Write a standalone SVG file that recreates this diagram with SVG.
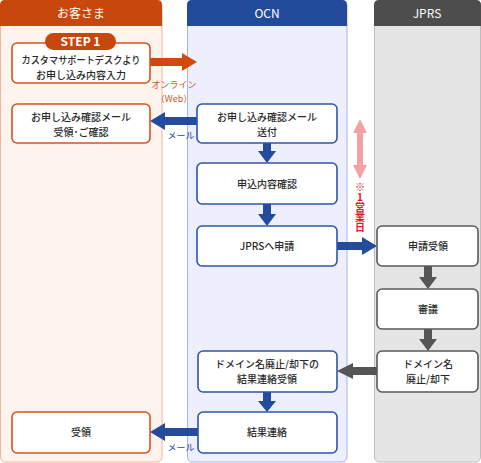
<svg xmlns="http://www.w3.org/2000/svg" width="481" height="463" viewBox="0 0 481 463">
<style>
text{font-family:"Noto Sans CJK JP","Liberation Sans",sans-serif;}
.hd{fill:#fff;font-size:12px;text-anchor:middle;}
.t{fill:#2a2a2a;font-size:10px;font-weight:500;text-anchor:middle;}
.nO{fill:#fff;stroke:#d4541a;stroke-width:1.6;}
.nB{fill:#fff;stroke:#2f56a8;stroke-width:1.6;}
.nG{fill:#fff;stroke:#5a5a5a;stroke-width:1.6;}
.lbl{font-size:9px;text-anchor:middle;}
</style>
<g id="col-customer">
<rect x="0.5" y="0.5" width="161.5" height="461.5" rx="5" fill="#fff3ee" stroke="#f2b49c"/>
<path d="M0,26V5Q0,0 5,0H157Q162,0 162,5V26Z" fill="#c8470c"/>
<text class="hd" x="81" y="18" font-size="11px">お客さま</text>
</g>
<g id="col-ocn">
<rect x="187.5" y="0.5" width="159.5" height="461.5" rx="5" fill="#eeeffc" stroke="#a9b2ea"/>
<path d="M187,26V5Q187,0 192,0H342Q347,0 347,5V26Z" fill="#224a9b"/>
<text class="hd" x="267" y="18" font-family="Liberation Sans">OCN</text>
</g>
<g id="col-jprs">
<rect x="374.5" y="0.5" width="106" height="461.5" rx="5" fill="#e5e5e5" stroke="#bdbdbd"/>
<path d="M374,26V5Q374,0 379,0H476Q481,0 481,5V26Z" fill="#4d4d4d"/>
<text class="hd" x="427" y="18" font-family="Liberation Sans">JPRS</text>
</g>
<g id="connectors">
<polygon points="150,58 182,58 182,53 197,62 182,71 182,66 150,66" fill="#cf4a0c"/>
<text class="lbl" x="174" y="88" fill="#d4541a">オンライン</text>
<text class="lbl" x="174" y="101.5" fill="#d4541a">（Web）</text>
<polygon points="197,117 165,117 165,112 150,121 165,130 165,125 197,125" fill="#234c9c"/>
<text class="lbl" x="181" y="139" fill="#234c9c">メール</text>
<polygon points="263,143 271,143 271,151 276,151 267,163 258,151 263,151" fill="#234c9c"/>
<polygon points="263,204 271,204 271,214 276,214 267,226 258,214 263,214" fill="#234c9c"/>
<polygon points="337,242 362,242 362,237 377,246 362,255 362,250 337,250" fill="#234c9c"/>
<polygon points="424,266 432,266 432,277 437,277 428,289 419,277 424,277" fill="#555"/>
<polygon points="424,329 432,329 432,339 437,339 428,351 419,339 424,339" fill="#555"/>
<polygon points="377,367 353,367 353,363 337,371 353,379 353,375 377,375" fill="#555"/>
<polygon points="263,392 271,392 271,401 276,401 267,412 258,401 263,401" fill="#234c9c"/>
<polygon points="198,428 165,428 165,423 150,432 165,441 165,436 198,436" fill="#234c9c"/>
<text class="lbl" x="181" y="451" fill="#234c9c">メール</text>
<polygon points="360,119 367,133 363,133 363,165 367,165 360,179 353,165 357,165 357,133 353,133" fill="#f4a0a4"/>
<text x="360" y="182" font-size="10px" font-weight="bold" fill="#e0182a" style="writing-mode:vertical-rl;text-orientation:upright">※1営業日</text>
</g>
<g id="n-step1">
<rect class="nO" x="12" y="43" width="138" height="40" rx="5"/>
<rect x="45" y="33" width="71" height="17" rx="8.5" fill="#c8470c"/>
<text x="80.5" y="46" fill="#fff" font-family="Liberation Sans" font-size="12px" font-weight="bold" text-anchor="middle">STEP 1</text>
<text class="t" x="81" y="64.2" textLength="119" lengthAdjust="spacingAndGlyphs">カスタマサポートデスクより</text>
<text class="t" x="81" y="78.8">お申し込み内容入力</text>
</g>
<g id="n-confirm-recv">
<rect class="nO" x="12" y="104" width="138" height="39" rx="5"/>
<text class="t" x="81" y="121.2">お申し込み確認メール</text>
<text class="t" x="81" y="135.8">受領･ご確認</text>
</g>
<g id="n-confirm-send">
<rect class="nB" x="197" y="104" width="140" height="39" rx="5"/>
<text class="t" x="267" y="121.2">お申し込み確認メール</text>
<text class="t" x="267" y="135.8">送付</text>
</g>
<g id="n-check">
<rect class="nB" x="197" y="163" width="140" height="41" rx="5"/>
<text class="t" x="267" y="188">申込内容確認</text>
</g>
<g id="n-apply">
<rect class="nB" x="197" y="226" width="140" height="40" rx="5"/>
<text class="t" x="267" y="250">JPRSへ申請</text>
</g>
<g id="n-jprs-recv">
<rect class="nG" x="377" y="226" width="101" height="40" rx="5"/>
<text class="t" x="428" y="250">申請受領</text>
</g>
<g id="n-review">
<rect class="nG" x="377" y="289" width="101" height="40" rx="5"/>
<text class="t" x="428" y="313">審議</text>
</g>
<g id="n-reject">
<rect class="nG" x="377" y="351" width="101" height="41" rx="5"/>
<text class="t" x="428" y="368.2">ドメイン名</text>
<text class="t" x="428" y="382.8">廃止/却下</text>
</g>
<g id="n-result-recv">
<rect class="nB" x="198" y="351" width="139" height="41" rx="5"/>
<text class="t" x="267" y="368.2">ドメイン名廃止/却下の</text>
<text class="t" x="267" y="382.8">結果連絡受領</text>
</g>
<g id="n-result">
<rect class="nB" x="198" y="412" width="139" height="41" rx="5"/>
<text class="t" x="267" y="436">結果連絡</text>
</g>
<g id="n-receive">
<rect class="nO" x="12" y="412" width="138" height="41" rx="5"/>
<text class="t" x="81" y="436">受領</text>
</g>
</svg>
